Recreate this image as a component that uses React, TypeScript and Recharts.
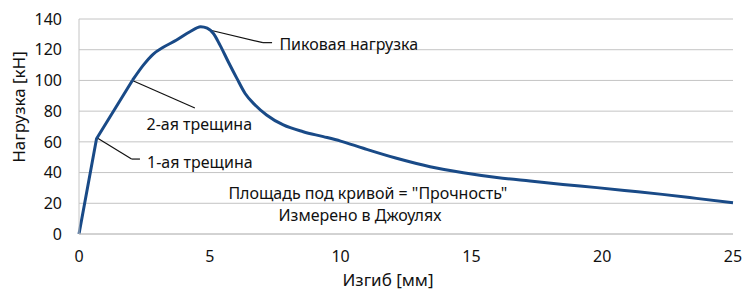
import React from 'react'
import {
  CartesianGrid,
  Label,
  Line,
  LineChart,
  ReferenceDot,
  ReferenceLine,
  XAxis,
  YAxis,
} from 'recharts'

// elastic part up to the 2nd crack: deflection (mm) vs load (kN)
const crackDeflection = [0, 0.67, 2.04]
const crackLoad = [0, 62, 100]

// rest of the curve, from the 2nd crack on
const deflection = [
  2.04, 2.46, 2.84, 3.22, 3.73, 4.24, 4.65, 4.9, 5.13, 5.39, 5.71, 6.03, 6.35, 6.73, 7.17, 7.81, 8.57,
  9.34, 10, 10.87, 12.14, 13.42, 14.69, 15.97, 17.24, 18.5, 19.8, 21.06, 22.3, 23.6, 25,
]
const load = [
  100, 110, 117.2, 121.6, 126.3, 131.7, 135, 134, 130.7, 123, 112, 101.5, 91.5, 84, 77.5, 71, 66.6,
  63.4, 60.5, 55.8, 49.3, 43.8, 39.9, 36.8, 34.5, 32.3, 30.2, 28, 25.8, 23.2, 20.3,
]

const xTicks = [0, 5, 10, 15, 20, 25]
const yTicks = [0, 20, 40, 60, 80, 100, 120, 140]

// leader lines from the curve to the notes, in data units
const leaders = [
  [{ x: 4.95, y: 133 }, { x: 7.03, y: 124.6 }],
  [{ x: 7.03, y: 124.6 }, { x: 7.38, y: 124.6 }],
  [{ x: 2.04, y: 100 }, { x: 4.43, y: 82 }],
  [{ x: 0.7, y: 62.5 }, { x: 2.01, y: 48.8 }],
  [{ x: 2.01, y: 48.8 }, { x: 2.33, y: 48.8 }],
]

const notes = [
  { x: 7.66, y: 123.7, text: 'Пиковая нагрузка', anchor: 'start' },
  { x: 2.58, y: 71.4, text: '2-ая трещина', anchor: 'start' },
  { x: 2.6, y: 47.1, text: '1-ая трещина', anchor: 'start' },
  { x: 11.04, y: 27, text: 'Площадь под кривой = "Прочность"', anchor: 'middle' },
  { x: 10.74, y: 12.2, text: 'Измерено в Джоулях', anchor: 'middle' },
]

const elastic = crackDeflection.map((x, i) => ({ x, y: crackLoad[i] }))
const postCrack = deflection.map((x, i) => ({ x, y: load[i] }))

const font = '"Noto Sans", sans-serif'
const textColor = '#111'
const gridColor = '#c4c4c4'
const lineColor = '#194a87'

export default function App() {
  return (
    <div style={{ position: 'absolute', left: 0, top: 0, background: '#fff' }}>
      <LineChart width={745} height={295} margin={{ top: 19, right: 12, left: 0, bottom: 0 }}>
        <CartesianGrid vertical={false} stroke={gridColor} />
        <XAxis
          dataKey="x"
          type="number"
          domain={[0, 25]}
          ticks={xTicks}
          height={61}
          stroke={gridColor}
          tickLine={false}
          tickSize={0}
          tickMargin={17}
          tick={{ fill: textColor, fontSize: 16, fontFamily: font }}
        >
          <Label
            content={() => (
              <text x={388} y={279} textAnchor="middle" dominantBaseline="central" fill={textColor} fontSize={17} fontFamily={font}>
                Изгиб [мм]
              </text>
            )}
          />
        </XAxis>
        <YAxis
          type="number"
          domain={[0, 140]}
          ticks={yTicks}
          width={79}
          stroke={gridColor}
          tickLine={false}
          tickSize={0}
          tickMargin={17}
          tick={{ fill: textColor, fontSize: 16, fontFamily: font }}
        >
          <Label
            content={() => (
              <text
                x={18}
                y={107}
                transform="rotate(-90 18 107)"
                textAnchor="middle"
                dominantBaseline="central"
                fill={textColor}
                fontSize={17}
                fontFamily={font}
              >
                Нагрузка [кН]
              </text>
            )}
          />
        </YAxis>
        {leaders.map((seg, i) => (
          <ReferenceLine key={i} segment={seg} stroke="#111" strokeWidth={1.2} />
        ))}
        <Line
          data={elastic}
          type="linear"
          dataKey="y"
          stroke={lineColor}
          strokeWidth={3}
          strokeLinejoin="round"
          dot={false}
          isAnimationActive={false}
        />
        <Line
          data={postCrack}
          type="monotone"
          dataKey="y"
          stroke={lineColor}
          strokeWidth={3}
          dot={false}
          isAnimationActive={false}
        />
        {notes.map((n) => (
          <ReferenceDot
            key={n.text}
            x={n.x}
            y={n.y}
            r={0}
            shape={(p: any) => (
              <text
                x={p.cx}
                y={p.cy}
                textAnchor={n.anchor}
                dominantBaseline="central"
                fill={textColor}
                fontSize={16}
                fontFamily={font}
              >
                {n.text}
              </text>
            )}
          />
        ))}
      </LineChart>
    </div>
  )
}
